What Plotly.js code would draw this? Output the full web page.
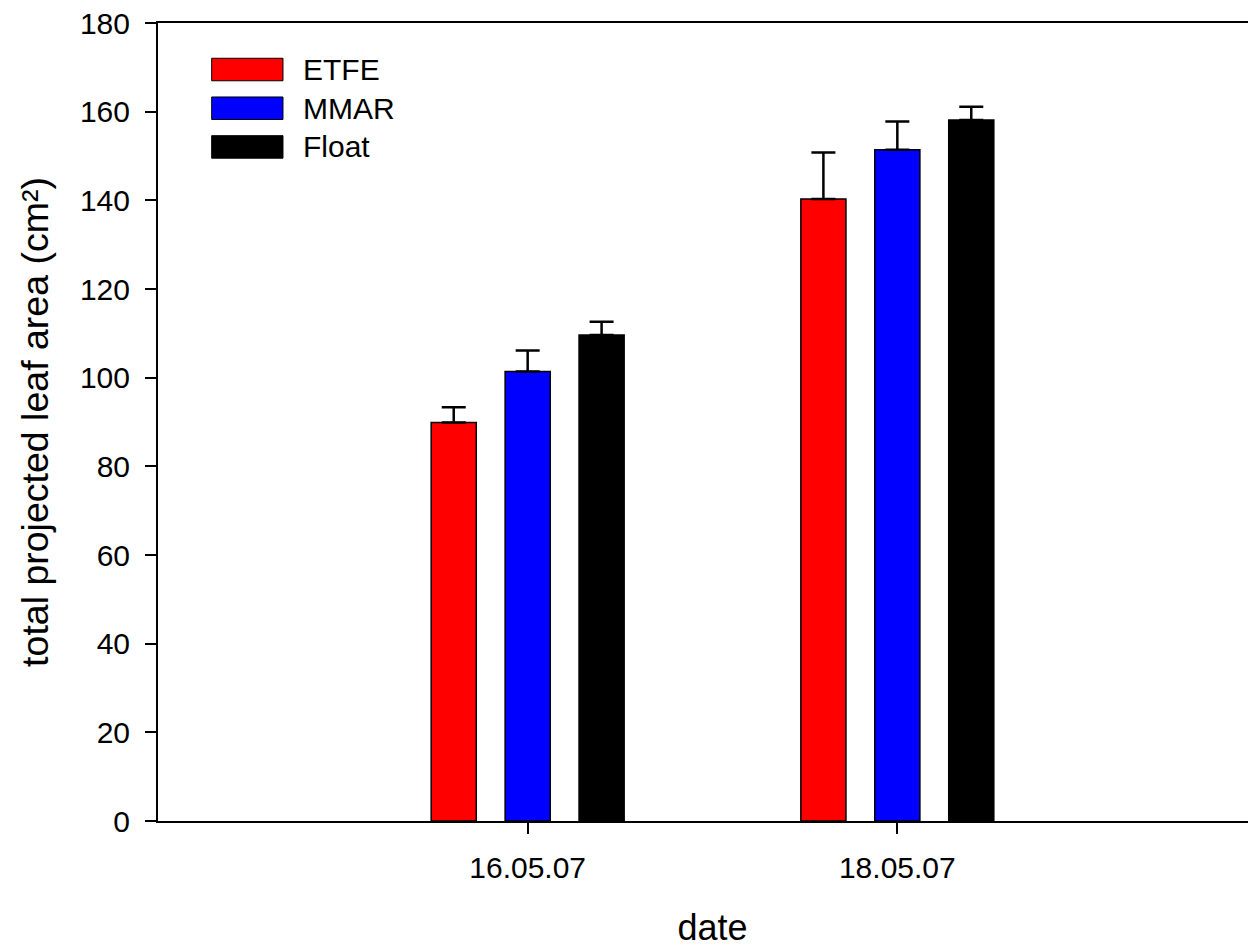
<!DOCTYPE html>
<html>
<head>
<meta charset="utf-8">
<script src="https://cdn.plot.ly/plotly-3.0.1.min.js"></script>
<style>
  html, body { margin: 0; padding: 0; overflow: hidden; background: #fff; }
  #chart { width: 1267px; height: 949px; }
</style>
</head>
<body>
<div id="chart"></div>
<script>
// ---- data ----
const dates = ['16.05.07', '18.05.07'];
const seriesNames = ['ETFE', 'MMAR', 'Float'];
const etfeValues = [89.9, 140.3];
const etfeErrors = [3.4, 10.5];
const mmarValues = [101.4, 151.4];
const mmarErrors = [4.7, 6.4];
const floatValues = [109.6, 158.1];
const floatErrors = [3.0, 3.0];
const yTicks = [0, 20, 40, 60, 80, 100, 120, 140, 160, 180];

const seriesValues = [etfeValues, mmarValues, floatValues];
const seriesErrors = [etfeErrors, mmarErrors, floatErrors];
const seriesColors = ['#ff0000', '#0000ff', '#000000'];

const font = 'Liberation Sans, Arial, sans-serif';

const traces = seriesNames.map((name, i) => ({
  type: 'bar',
  name: name,
  x: dates,
  y: seriesValues[i],
  marker: { color: seriesColors[i], line: { color: '#000', width: 1.5 } },
  error_y: {
    type: 'data',
    symmetric: false,
    array: seriesErrors[i],
    arrayminus: seriesErrors[i].map(() => 0),
    color: '#000',
    thickness: 2.5,
    width: 12
  },
  showlegend: false,
  hoverinfo: 'x+y+name'
}));

// legend drawn as swatches + labels (paper coordinates)
const legendShapes = [];
const legendAnn = [];
seriesNames.forEach((name, i) => {
  const yc = 0.9417 - i * 0.0485;
  const h = 0.0141;
  legendShapes.push({
    type: 'rect', xref: 'paper', yref: 'paper',
    x0: 0.0484, x1: 0.1127, y0: yc - h, y1: yc + h,
    fillcolor: seriesColors[i], line: { color: '#000', width: 1 }
  });
  legendAnn.push({
    xref: 'paper', yref: 'paper', x: 0.129, y: yc,
    xanchor: 'left', yanchor: 'middle', showarrow: false,
    text: name, font: { family: font, size: 30, color: '#000' }
  });
});

const layout = {
  width: 1267,
  height: 949,
  margin: { l: 158, r: 0, t: 23, b: 128, pad: 0 },
  paper_bgcolor: '#fff',
  plot_bgcolor: '#fff',
  barmode: 'group',
  bargap: 0.4,
  bargroupgap: 0.39,
  font: { family: font, color: '#000' },
  xaxis: {
    type: 'category',
    range: [-1, 2],
    showline: true, linecolor: '#000', linewidth: 2, mirror: true,
    ticks: 'outside', ticklen: 11, tickwidth: 2, tickcolor: '#000',
    showgrid: false, zeroline: false,
    tickfont: { family: font, size: 30, color: '#000' },
    ticklabelstandoff: 8,
    title: { text: 'date', font: { family: font, size: 36, color: '#000' }, standoff: 32 }
  },
  yaxis: {
    range: [0, 180],
    tickvals: yTicks,
    ticktext: yTicks.map(String),
    showline: true, linecolor: '#000', linewidth: 2,
    ticks: 'outside', ticklen: 11, tickwidth: 2, tickcolor: '#000',
    showgrid: false, zeroline: false,
    tickfont: { family: font, size: 30, color: '#000' },
    ticklabelstandoff: 9,
    title: { text: 'total projected leaf area (cm²)', font: { family: font, size: 37.5, color: '#000' }, standoff: 20 }
  },
  shapes: legendShapes,
  annotations: legendAnn,
  showlegend: false
};

Plotly.newPlot('chart', traces, layout, { displayModeBar: false, staticPlot: true });
</script>
</body>
</html>
